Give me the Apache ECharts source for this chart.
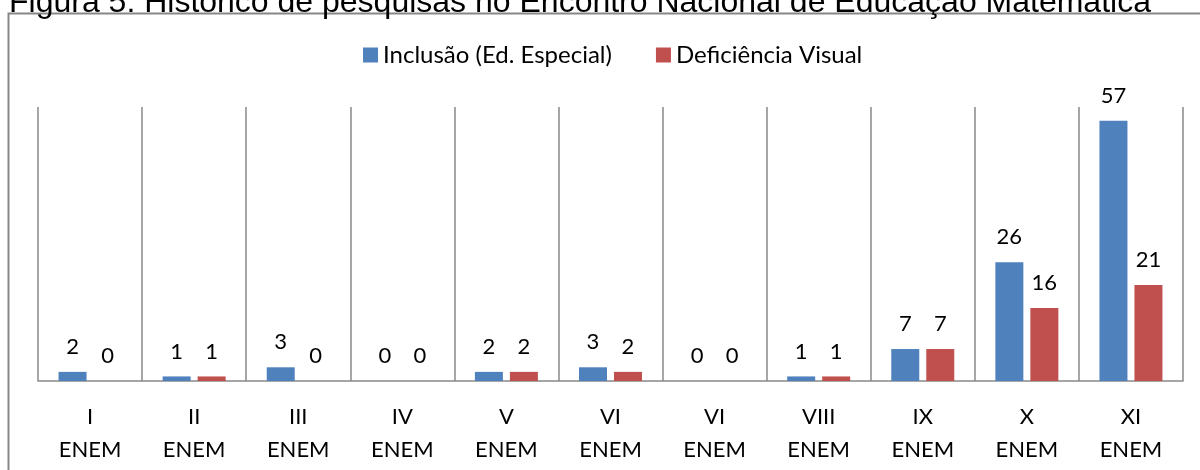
<!DOCTYPE html>
<html>
<head>
<meta charset="utf-8">
<script src="https://cdn.jsdelivr.net/npm/echarts@6/dist/echarts.min.js"></script>
<style>html,body{margin:0;padding:0;background:#fff;}#c{width:1200px;height:470px;}</style>
</head>
<body>
<div id="c"></div>
<script>
const categories = ['I\nENEM','II\nENEM','III\nENEM','IV\nENEM','V\nENEM','VI\nENEM','VI\nENEM','VIII\nENEM','IX\nENEM','X\nENEM','XI\nENEM'];
const inclusao = [2,1,3,0,2,3,0,1,7,26,57];
const deficiencia = [0,1,0,0,2,2,0,1,7,16,21];
const seriesNames = ['Inclusão (Ed. Especial)','Deficiência Visual'];
const titleText = 'Figura 5: Histórico de pesquisas no Encontro Nacional de Educação Matemática';

const chart = echarts.init(document.getElementById('c'));
const font = 'Lato, "Open Sans", sans-serif';
const labelCfg = {show:true, position:'top', distance:14, color:'#000', fontFamily:font, fontSize:22};
chart.setOption({
  animation:false,
  graphic:[
    {type:'rect', shape:{x:8.5,y:13.5,width:1400,height:600}, style:{fill:'none', stroke:'#878787', lineWidth:2}, z:-1},
    {type:'text', x:9, y:-13, z:10, style:{text:titleText, fontSize:32, fontFamily:'"Liberation Sans", Arial, sans-serif', fill:'#000'}}
  ],
  legend:{
    left:358, top:38, itemWidth:15, itemHeight:15, itemGap:44,
    icon:'rect',
    textStyle:{fontFamily:font, fontSize:24, color:'#000', padding:[0,0,0,0]},
    data:seriesNames
  },
  grid:{left:38, right:17, top:107, bottom:89},
  xAxis:{
    type:'category', data:categories,
    axisLine:{lineStyle:{color:'#898989', width:1.5}},
    axisTick:{show:false},
    splitLine:{show:true, interval:0, lineStyle:{color:'#898989', width:1.5}},
    axisLabel:{interval:0, color:'#000', fontFamily:font, fontSize:22, lineHeight:33, margin:19}
  },
  yAxis:{type:'value', min:0, max:60, show:false, splitLine:{show:false}},
  series:[
    {name:seriesNames[0], type:'bar', data:inclusao, barWidth:28, barGap:'25%', itemStyle:{color:'#4F81BD'}, label:labelCfg},
    {name:seriesNames[1], type:'bar', data:deficiencia, barWidth:28, barGap:'25%', itemStyle:{color:'#C0504D'}, label:labelCfg}
  ]
});
</script>
</body>
</html>
